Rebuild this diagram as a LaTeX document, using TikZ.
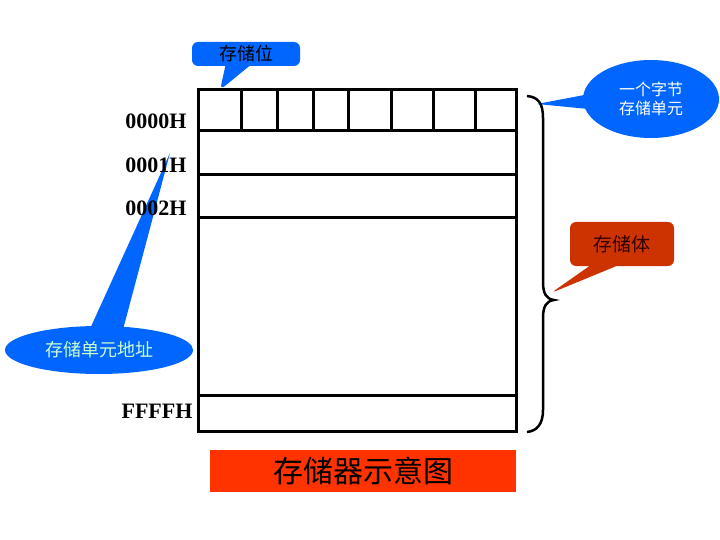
\documentclass[tikz,border=0pt]{standalone}
\usepackage{fontspec}
\setmainfont{Liberation Serif}
\newfontfamily\cjk{Noto Sans CJK SC}
\usetikzlibrary{shapes.callouts,shapes.geometric}

\definecolor{bubbleblue}{RGB}{0,102,255}
\definecolor{brickred}{RGB}{204,51,0}
\definecolor{barred}{RGB}{255,51,0}
\definecolor{palegreen}{RGB}{204,255,204}

\begin{document}
\begin{tikzpicture}[x=1pt,y=-1pt,
    cell/.style={line width=3pt},
    addr/.style={anchor=east,font=\fontsize{22}{24}\selectfont\bfseries},
    bubble/.style={fill=bubbleblue,draw=none,inner sep=2pt}]
    \useasboundingbox (0,0) rectangle (720,540);
    % callouts
    \node[bubble,rectangle callout,rounded corners=6pt,minimum width=108,minimum height=24,
        callout absolute pointer={(220,90)},callout pointer width=24pt,
        font=\cjk\fontsize{18}{18}\selectfont] (bit) at (246,54) {存储位};
    \node[bubble,ellipse callout,minimum width=136,minimum height=78,
        callout absolute pointer={(537,104)},callout pointer arc=20,text=white,align=center,
        font=\cjk\fontsize{16}{19}\selectfont] (unit) at (651,99) {一个字节\\存储单元};
    \node[bubble,fill=brickred,rectangle callout,rounded corners=6pt,minimum width=104,minimum height=44,
        callout absolute pointer={(551,293)},callout pointer width=27pt,text={rgb,255:red,51;green,0;blue,0},
        font=\cjk\fontsize{19}{19}\selectfont] (body) at (622,244) {存储体};
    \node[bubble,ellipse callout,minimum width=188,minimum height=48,
        callout absolute pointer={(170,153)},callout pointer arc=20,text=palegreen,
        font=\cjk\fontsize{18}{18}\selectfont] (addrtag) at (99,350) {存储单元地址};
    % memory block
    \draw[cell] (198,90) rectangle (516,431);
    \foreach \y in {131,175,218,395}
        \draw[cell] (198,\y) -- (516,\y);
    \foreach \x in {241,277,313,348,391,433,475}
        \draw[cell] (\x,90) -- (\x,131);
    % addresses
    \node[addr] (a0) at (190,121) {0000H};
    \node[addr] (a1) at (190,165) {0001H};
    \node[addr] (a2) at (190,208) {0002H};
    \node[addr] (af) at (196,411) {FFFFH};
    % brace
    \draw[line width=2.5pt] (527,96) .. controls (538,97) and (543,103) .. (543,118)
        -- (543,282) .. controls (543,293) and (546,299) .. (554,300)
        .. controls (546,301) and (543,307) .. (543,318)
        -- (543,410) .. controls (543,424) and (537,431) .. (527,432);
    % title bar
    \node[fill=barred,minimum width=306,minimum height=42,inner sep=0pt,
        font=\cjk\fontsize{30}{30}\selectfont] (title) at (363,471) {存储器示意图};
\end{tikzpicture}
\end{document}
